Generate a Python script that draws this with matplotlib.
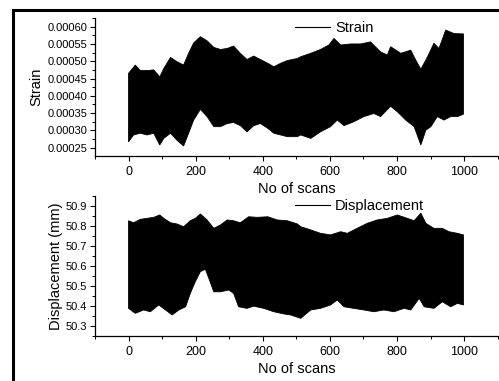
import matplotlib
matplotlib.use("Agg")
import matplotlib.pyplot as plt
from matplotlib.lines import Line2D
from matplotlib.patches import Rectangle
from matplotlib.ticker import MultipleLocator

plt.rcParams['font.family'] = ['Liberation Sans', 'DejaVu Sans']

# strain envelope (upper / lower)
strain_x_up = [0, 20, 35, 55, 75, 93, 105, 125, 144, 164, 179, 194, 214, 234, 254, 274, 294, 313,
               333, 353, 373, 393, 415, 433, 453, 473, 503, 513, 543, 572, 597, 612, 632, 662, 692,
               721, 751, 771, 781, 811, 841, 856, 871, 891, 910, 925, 945, 970, 998]
strain_up = [0.000465, 0.000489, 0.000473, 0.000473, 0.000475, 0.000455, 0.000479, 0.000511,
             0.000499, 0.000489, 0.000523, 0.000553, 0.000571, 0.000559, 0.000540, 0.000534,
             0.000537, 0.000544, 0.000523, 0.000505, 0.000515, 0.000505, 0.000494, 0.000484,
             0.000494, 0.000502, 0.000508, 0.000513, 0.000523, 0.000534, 0.000547, 0.000566,
             0.000547, 0.000550, 0.000550, 0.000556, 0.000527, 0.000518, 0.000542, 0.000523,
             0.000532, 0.000503, 0.000477, 0.000513, 0.000552, 0.000537, 0.000590, 0.000580,
             0.000579]
strain_x_lo = [0, 15, 35, 55, 75, 93, 105, 125, 144, 164, 179, 194, 214, 234, 254, 274, 294, 313,
               333, 353, 373, 393, 415, 433, 453, 473, 503, 513, 543, 572, 602, 622, 642, 671, 701,
               731, 751, 781, 801, 826, 851, 871, 886, 901, 920, 940, 960, 980, 998]
strain_lo = [0.000267, 0.000287, 0.000292, 0.000287, 0.000292, 0.000258, 0.000277, 0.000292,
             0.000272, 0.000255, 0.000292, 0.000330, 0.000361, 0.000340, 0.000311, 0.000311,
             0.000320, 0.000323, 0.000314, 0.000296, 0.000314, 0.000320, 0.000306, 0.000292,
             0.000287, 0.000282, 0.000282, 0.000287, 0.000277, 0.000296, 0.000311, 0.000330,
             0.000314, 0.000325, 0.000340, 0.000349, 0.000340, 0.000370, 0.000354, 0.000330,
             0.000311, 0.000258, 0.000301, 0.000311, 0.000340, 0.000330, 0.000340, 0.000340,
             0.000347]

# displacement envelope (upper / lower)
disp_x_up = [0, 15, 35, 55, 75, 93, 105, 125, 144, 164, 184, 199, 214, 234, 254, 274, 294, 313,
             333, 358, 383, 415, 443, 473, 503, 513, 543, 572, 602, 632, 652, 681, 711, 741, 771,
             801, 831, 851, 871, 886, 910, 935, 955, 980, 998]
disp_up = [50.826, 50.816, 50.833, 50.838, 50.843, 50.855, 50.838, 50.816, 50.810, 50.796,
           50.826, 50.838, 50.860, 50.830, 50.788, 50.805, 50.830, 50.826, 50.816, 50.846,
           50.843, 50.846, 50.830, 50.826, 50.810, 50.796, 50.780, 50.763, 50.755, 50.771,
           50.763, 50.788, 50.813, 50.830, 50.838, 50.855, 50.838, 50.826, 50.864, 50.813,
           50.788, 50.788, 50.771, 50.763, 50.755]
disp_x_lo = [0, 20, 45, 65, 90, 110, 130, 150, 170, 184, 199, 214, 229, 239, 254, 274, 299, 313,
             328, 353, 373, 403, 433, 463, 483, 513, 543, 572, 602, 622, 642, 671, 701, 731, 761,
             791, 821, 841, 866, 881, 910, 935, 960, 980, 998]
disp_lo = [50.387, 50.362, 50.379, 50.370, 50.404, 50.379, 50.354, 50.379, 50.395, 50.462,
           50.521, 50.571, 50.583, 50.538, 50.470, 50.470, 50.479, 50.462, 50.395, 50.387,
           50.398, 50.387, 50.370, 50.359, 50.354, 50.337, 50.379, 50.387, 50.404, 50.429,
           50.395, 50.387, 50.379, 50.370, 50.379, 50.370, 50.387, 50.379, 50.437, 50.395,
           50.387, 50.420, 50.395, 50.412, 50.404]

fig = plt.figure(figsize=(4.99, 3.81), dpi=100)

# outer frame
fig.patches.append(Rectangle((13 / 499, -0.05), 1.1, 1.05 - 10 / 381,
                             transform=fig.transFigure, fill=False, edgecolor='black',
                             linewidth=2.2, zorder=0))

ax1 = fig.add_axes([95 / 499, 1 - 155.7 / 381, 402.7 / 499, 137.7 / 381])
ax2 = fig.add_axes([95 / 499, 1 - 335.7 / 381, 402.7 / 499, 139.7 / 381])


def fill_env(ax, xu, yu, xl, yl):
    # close the polygon: upper envelope forward, lower envelope back
    px = xu + xl[::-1]
    py = yu + yl[::-1]
    ax.fill(px, py, color='black', linewidth=0.6, edgecolor='black')


fill_env(ax1, strain_x_up, strain_up, strain_x_lo, strain_lo)
fill_env(ax2, disp_x_up, disp_up, disp_x_lo, disp_lo)

ax1.set_ylim(0.000227, 0.000625)
ax1.yaxis.set_major_locator(MultipleLocator(0.00005))
ax1.yaxis.set_minor_locator(MultipleLocator(0.000025))
ax1.yaxis.set_major_formatter(plt.FormatStrFormatter('%.5f'))
ax1.set_ylabel('Strain', fontsize=10.5, labelpad=3)

ax2.set_ylim(50.25, 50.95)
ax2.yaxis.set_major_locator(MultipleLocator(0.1))
ax2.yaxis.set_minor_locator(MultipleLocator(0.05))
ax2.yaxis.set_major_formatter(plt.FormatStrFormatter('%.1f'))
ax2.set_ylabel('Displacement (mm)', fontsize=10.5, labelpad=2)

for ax, name in [(ax1, 'Strain'), (ax2, 'Displacement')]:
    ax.set_xlim(-100, 1100)
    ax.xaxis.set_major_locator(MultipleLocator(200))
    ax.xaxis.set_minor_locator(MultipleLocator(100))
    ax.set_xlabel('No of scans', fontsize=10.5, labelpad=3)
    ax.spines['top'].set_visible(False)
    ax.spines['right'].set_visible(False)
    ax.spines['left'].set_linewidth(0.9)
    ax.spines['bottom'].set_linewidth(0.9)
    ax.tick_params(which='major', direction='out', length=3.5, width=0.8, labelsize=8, pad=2)
    ax.tick_params(axis='x', which='major', labelsize=9, pad=4)
    ax.tick_params(which='minor', direction='out', length=2, width=0.7)
    ax.patch.set_alpha(0)
    h = Line2D([], [], color='black', linewidth=0.8)
    ax.legend([h], [name], loc='upper left', bbox_to_anchor=(0.497, 0.978), frameon=False,
              fontsize=10.5, handlelength=2.4, handletextpad=0.35, borderpad=0,
              borderaxespad=0)

fig.savefig('out.png', dpi=100)
